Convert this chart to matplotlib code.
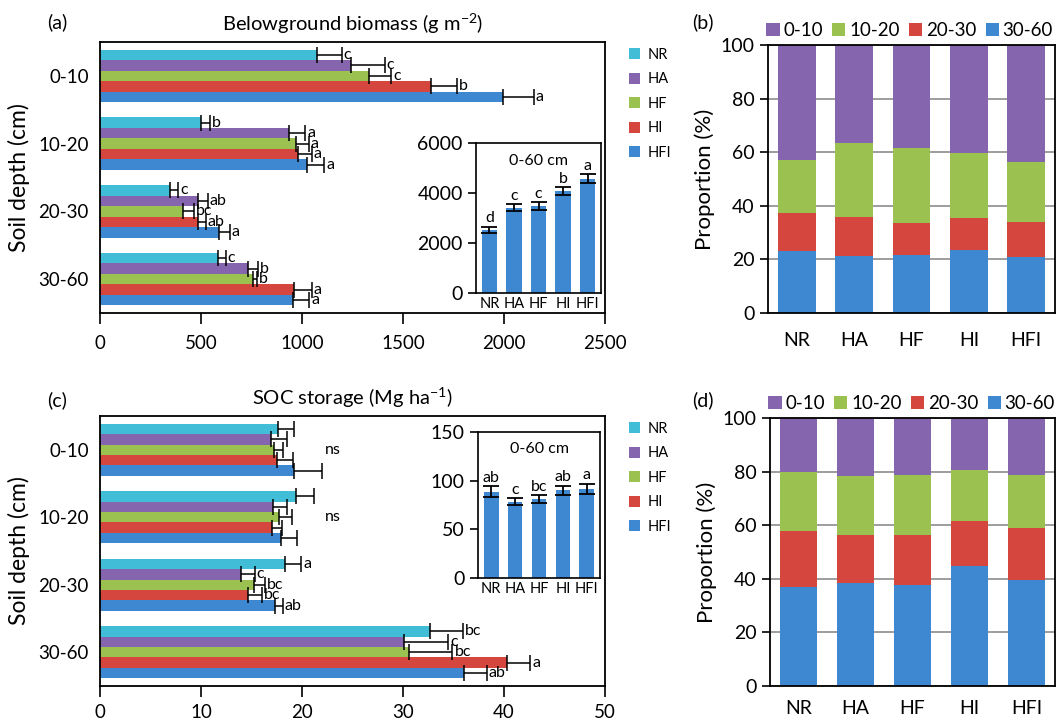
import numpy as np
import matplotlib
matplotlib.use("Agg")
import matplotlib.pyplot as plt

plt.rcParams['font.family'] = ['Lato', 'DejaVu Sans']
plt.rcParams['mathtext.default'] = 'regular'

# ---- data ----
treatments = ["NR", "HA", "HF", "HI", "HFI"]
depths = ["0-10", "10-20", "20-30", "30-60"]

# belowground biomass (g m-2), rows = depth, cols = treatment
bio_mean = [[1074, 1245, 1332, 1641, 1996],
            [501, 935, 969, 979, 1027],
            [347, 484, 412, 484, 587],
            [585, 731, 755, 961, 955]]
bio_err = [[123, 164, 109, 125, 152],
           [42, 80, 65, 69, 83],
           [41, 50, 52, 40, 55],
           [38, 50, 22, 87, 80]]
bio_let = [["c", "c", "c", "b", "a"],
           ["b", "a", "a", "a", "a"],
           ["c", "ab", "bc", "ab", "a"],
           ["c", "b", "b", "a", "a"]]
bio_tot = [2530, 3420, 3480, 4080, 4580]
bio_tot_err = [130, 130, 150, 160, 180]
bio_tot_let = ["d", "c", "c", "b", "a"]

# proportions (%) of biomass, per depth layer
bio_prop_0_10 = [42.9, 36.6, 38.3, 40.4, 43.7]
bio_prop_10_20 = [19.8, 27.6, 28.0, 24.1, 22.5]
bio_prop_20_30 = [14.1, 14.4, 12.1, 11.9, 12.9]
bio_prop_30_60 = [23.2, 21.4, 21.6, 23.6, 20.9]

# SOC storage (Mg ha-1)
soc_mean = [[17.6, 16.9, 17.2, 17.5, 19.2],
            [19.4, 17.1, 17.7, 17.0, 17.9],
            [18.3, 14.0, 15.2, 14.7, 17.3],
            [32.7, 30.1, 30.6, 40.3, 36.0]]
soc_err = [[1.6, 1.6, 0.9, 1.6, 2.8],
           [1.8, 1.4, 1.3, 1.0, 1.6],
           [1.6, 1.3, 1.1, 1.3, 0.8],
           [3.2, 4.4, 4.3, 2.3, 2.3]]
soc_let = [None,
           None,
           ["a", "c", "bc", "bc", "ab"],
           ["bc", "c", "bc", "a", "ab"]]
soc_tot = [88.6, 78.4, 81.1, 90.0, 91.4]
soc_tot_err = [5.5, 3.4, 3.8, 4.8, 5.4]
soc_tot_let = ["ab", "c", "bc", "ab", "a"]

soc_prop_0_10 = [20.0, 21.6, 21.4, 19.5, 21.2]
soc_prop_10_20 = [22.2, 22.1, 22.1, 19.1, 20.0]
soc_prop_20_30 = [20.8, 17.8, 18.7, 16.6, 19.2]
soc_prop_30_60 = [37.0, 38.5, 37.8, 44.8, 39.6]

colors = {"NR": "#42BDD8", "HA": "#8566AE", "HF": "#9BC150",
          "HI": "#D5463E", "HFI": "#3E87D1"}
layer_colors = ["#8566AE", "#9BC150", "#D5463E", "#3E87D1"]

W, H = 1057, 725
fig = plt.figure(figsize=(W / 100, H / 100), dpi=100)


def px_axes(l, t, r, b):
    return fig.add_axes([l / W, 1 - b / H, (r - l) / W, (b - t) / H])


def hbar_panel(ax, mean, err, letters, xmax, xstep, ns_x=None, xpad=8):
    h = 0.155
    for j, tr in enumerate(treatments):
        ys = np.arange(len(depths)) + (j - 2) * h
        vals = [mean[i][j] for i in range(len(depths))]
        ers = [err[i][j] for i in range(len(depths))]
        ax.barh(ys, vals, height=h, color=colors[tr], label=tr, zorder=2)
        ax.errorbar(vals, ys, xerr=[np.zeros(len(vals)), ers], fmt="none",
                    ecolor="black", elinewidth=1.1, capsize=6, capthick=1.1,
                    zorder=3)
        for i in range(len(depths)):
            if letters[i] is not None:
                ax.text(vals[i] + ers[i] + xmax * 0.004, ys[i],
                        letters[i][j], va="center", ha="left", fontsize=11.5)
    if ns_x is not None:
        for i in range(len(depths)):
            if letters[i] is None:
                ax.text(ns_x, i, "ns", va="center", ha="left", fontsize=11.5)
    ax.set_ylim(3.5, -0.5)
    ax.set_xlim(0, xmax)
    ax.set_xticks(np.arange(0, xmax + xstep / 2, xstep))
    ax.set_yticks(range(len(depths)))
    ax.set_yticklabels(depths)
    ax.tick_params(axis="y", length=0, labelsize=13.5, pad=8)
    ax.tick_params(axis="x", length=8, width=1.2, direction="out",
                   labelsize=13.5, pad=xpad)
    for s in ax.spines.values():
        s.set_linewidth(1.3)
    ax.set_ylabel("Soil depth (cm)", fontsize=16.5, labelpad=6)
    handles, labs = ax.get_legend_handles_labels()
    ax.legend(handles, labs, loc="upper left", bbox_to_anchor=(1.035, 1.0),
              frameon=False, fontsize=10.5, handlelength=0.8,
              handleheight=0.8, handletextpad=0.5, labelspacing=0.72,
              borderaxespad=0)


def inset_panel(ax, tot, tot_err, lets, ymax, ystep):
    x = np.arange(len(treatments))
    ax.bar(x, tot, width=0.62, color="#3E87D1", zorder=2)
    ax.errorbar(x, tot, yerr=tot_err, fmt="none", ecolor="black",
                elinewidth=1.3, capsize=6, capthick=1.3, zorder=3)
    for xi, v, e, l in zip(x, tot, tot_err, lets):
        ax.text(xi, v + e + ymax * 0.01, l, ha="center", va="bottom",
                fontsize=11.5)
    ax.set_xlim(-0.55, 4.55)
    ax.set_ylim(0, ymax)
    ax.set_yticks(np.arange(0, ymax + ystep / 2, ystep))
    ax.set_xticks(x)
    ax.set_xticklabels(treatments)
    ax.tick_params(axis="x", length=0, labelsize=10.5, pad=3)
    ax.tick_params(axis="y", length=6, width=1.2, direction="out",
                   labelsize=14)
    ax.text(0.5, 0.93, "0-60 cm", transform=ax.transAxes, ha="center",
            va="top", fontsize=11.5)
    for s in ax.spines.values():
        s.set_linewidth(1.2)


def stack_panel(ax, props, xpad=14):
    x = np.arange(len(treatments))
    names = ["0-10", "10-20", "20-30", "30-60"]
    bottom = np.zeros(len(treatments))
    bars = []
    for k in [3, 2, 1, 0]:
        b = ax.bar(x, props[k], bottom=bottom, width=0.66,
                   color=layer_colors[k], label=names[k], zorder=2)
        bars.append((k, b))
        bottom += np.array(props[k])
    ax.set_xlim(-0.5, 4.5)
    ax.set_ylim(0, 100)
    ax.set_yticks(range(0, 101, 20))
    ax.yaxis.grid(True, color="#8c8c8c", linewidth=1.2, zorder=0)
    ax.set_axisbelow(True)
    ax.set_xticks(x)
    ax.set_xticklabels(treatments)
    ax.tick_params(axis="x", length=0, labelsize=14, pad=xpad)
    ax.tick_params(axis="y", length=6, width=1.2, direction="out",
                   labelsize=14)
    for s in ax.spines.values():
        s.set_linewidth(1.3)
    ax.set_ylabel("Proportion (%)", fontsize=16, labelpad=4)
    handles = [b for k, b in sorted(bars, key=lambda t: t[0])]
    ax.legend(handles, names, loc="lower left", bbox_to_anchor=(-0.025, 1.0),
              ncol=4, frameon=False, fontsize=13.5, handlelength=0.7,
              handleheight=0.7, handletextpad=0.2, columnspacing=0.5,
              borderaxespad=0.1, borderpad=0.2)


# (a)
ax_a = px_axes(100, 42, 605, 313)
hbar_panel(ax_a, bio_mean, bio_err, bio_let, 2500, 500)
ax_a.set_title("Belowground biomass (g m$^{-2}$)", fontsize=14.5, pad=8)
ax_ai = px_axes(476, 143, 601, 293)
inset_panel(ax_ai, bio_tot, bio_tot_err, bio_tot_let, 6000, 2000)

# (b)
ax_b = px_axes(768, 45, 1055, 313)
stack_panel(ax_b, [bio_prop_0_10, bio_prop_10_20, bio_prop_20_30,
                   bio_prop_30_60])

# (c)
ax_c = px_axes(100, 416, 605, 686)
hbar_panel(ax_c, soc_mean, soc_err, soc_let, 50, 10, ns_x=22.3, xpad=5)
ax_c.set_title("SOC storage (Mg ha$^{-1}$)", fontsize=14.5, pad=8)
ax_ci = px_axes(478, 432, 600, 578)
inset_panel(ax_ci, soc_tot, soc_tot_err, soc_tot_let, 150, 50)

# (d)
ax_d = px_axes(770, 418, 1055, 686)
stack_panel(ax_d, [soc_prop_0_10, soc_prop_10_20, soc_prop_20_30,
                   soc_prop_30_60], xpad=10)

for lab, x, y in [("(a)", 47, 22), ("(b)", 692, 22),
                  ("(c)", 47, 400), ("(d)", 692, 400)]:
    fig.text(x / W, 1 - y / H, lab, ha="left", va="center", fontsize=14)

fig.savefig("out.png", dpi=100)
